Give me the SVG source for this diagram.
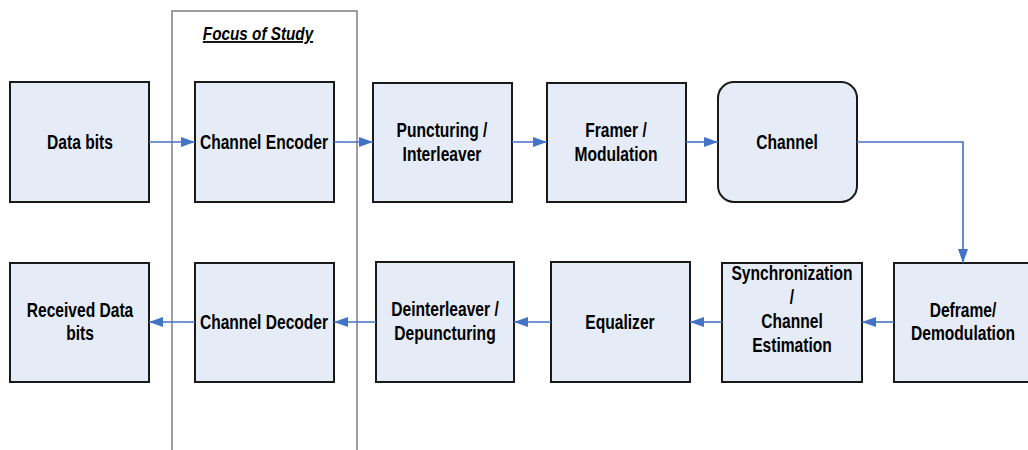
<svg xmlns="http://www.w3.org/2000/svg" width="1028" height="450" viewBox="0 0 1028 450">
  <style>
    .box { fill: #e6ecf7; stroke: #1a1a1a; stroke-width: 2; }
    .lbl { font-family: "Liberation Sans Narrow", "Arial Narrow", "Liberation Sans", sans-serif; font-weight: bold; font-size: 19.5px; fill: #000; text-anchor: middle; }
    .wire { fill: none; stroke: #4472c4; stroke-width: 1.6; }
  </style>
  <defs>
    <marker id="head" viewBox="0 0 14 10" refX="14" refY="5" markerWidth="14" markerHeight="10" markerUnits="userSpaceOnUse" orient="auto">
      <path d="M0,0 L14,5 L0,10 Z" fill="#4472c4"/>
    </marker>
  </defs>

  <rect width="1028" height="450" fill="#ffffff"/>

  <!-- region boundary around the encoder / decoder pair -->
  <g id="focus">
    <path d="M172,452 V11 H357 V452" fill="none" stroke="#808080" stroke-width="1.5"/>
    <text class="lbl" transform="translate(258,40) scale(0.85,1)" style="font-style:italic;font-size:18px;text-decoration:underline">Focus of Study</text>
  </g>

  <!-- transmit chain -->
  <g id="data-bits">
    <rect class="box" x="10" y="82" width="139" height="120"/>
    <text class="lbl" transform="translate(80,149) scale(0.8,1)">Data bits</text>
  </g>
  <g id="channel-encoder">
    <rect class="box" x="195" y="82" width="139" height="120"/>
    <text class="lbl" transform="translate(264,149) scale(0.8,1)">Channel Encoder</text>
  </g>
  <g id="puncturing">
    <rect class="box" x="373" y="83" width="139" height="119"/>
    <text class="lbl" transform="translate(442,137) scale(0.8,1)">Puncturing /</text>
    <text class="lbl" transform="translate(442,161) scale(0.8,1)">Interleaver</text>
  </g>
  <g id="framer">
    <rect class="box" x="547" y="83" width="139" height="119"/>
    <text class="lbl" transform="translate(616,137) scale(0.8,1)">Framer /</text>
    <text class="lbl" transform="translate(616,161) scale(0.8,1)">Modulation</text>
  </g>
  <g id="channel">
    <rect class="box" x="718" y="82" width="139" height="120" rx="16" ry="16"/>
    <text class="lbl" transform="translate(787,149) scale(0.8,1)">Channel</text>
  </g>

  <!-- receive chain -->
  <g id="deframe">
    <rect class="box" x="894" y="263" width="139" height="119"/>
    <text class="lbl" transform="translate(963,317) scale(0.8,1)">Deframe/</text>
    <text class="lbl" transform="translate(963,340) scale(0.8,1)">Demodulation</text>
  </g>
  <g id="sync">
    <rect class="box" x="722" y="263" width="140" height="119"/>
    <text class="lbl" transform="translate(792,280) scale(0.8,1)">Synchronization</text>
    <text class="lbl" transform="translate(792,304) scale(0.8,1)">/</text>
    <text class="lbl" transform="translate(792,328) scale(0.8,1)">Channel</text>
    <text class="lbl" transform="translate(792,352) scale(0.8,1)">Estimation</text>
  </g>
  <g id="equalizer">
    <rect class="box" x="551" y="262" width="139" height="120"/>
    <text class="lbl" transform="translate(620,329) scale(0.8,1)">Equalizer</text>
  </g>
  <g id="deinterleaver">
    <rect class="box" x="376" y="262" width="138" height="120"/>
    <text class="lbl" transform="translate(445,316) scale(0.8,1)">Deinterleaver /</text>
    <text class="lbl" transform="translate(445,340) scale(0.8,1)">Depuncturing</text>
  </g>
  <g id="channel-decoder">
    <rect class="box" x="195" y="263" width="139" height="119"/>
    <text class="lbl" transform="translate(264,329) scale(0.8,1)">Channel Decoder</text>
  </g>
  <g id="received-bits">
    <rect class="box" x="10" y="263" width="139" height="119"/>
    <text class="lbl" transform="translate(80,317) scale(0.8,1)">Received Data</text>
    <text class="lbl" transform="translate(80,340) scale(0.8,1)">bits</text>
  </g>

  <!-- connectors -->
  <g id="connectors" class="wire">
    <path class="wire" d="M149,142 H195" marker-end="url(#head)"/>
    <path class="wire" d="M334,142 H373" marker-end="url(#head)"/>
    <path class="wire" d="M512,142 H547" marker-end="url(#head)"/>
    <path class="wire" d="M686,142 H718" marker-end="url(#head)"/>
    <path class="wire" d="M857,142 H963 V263" marker-end="url(#head)"/>
    <path class="wire" d="M894,322 H862" marker-end="url(#head)"/>
    <path class="wire" d="M722,322 H690" marker-end="url(#head)"/>
    <path class="wire" d="M551,322 H514" marker-end="url(#head)"/>
    <path class="wire" d="M376,322 H334" marker-end="url(#head)"/>
    <path class="wire" d="M195,322 H149" marker-end="url(#head)"/>
  </g>
</svg>
